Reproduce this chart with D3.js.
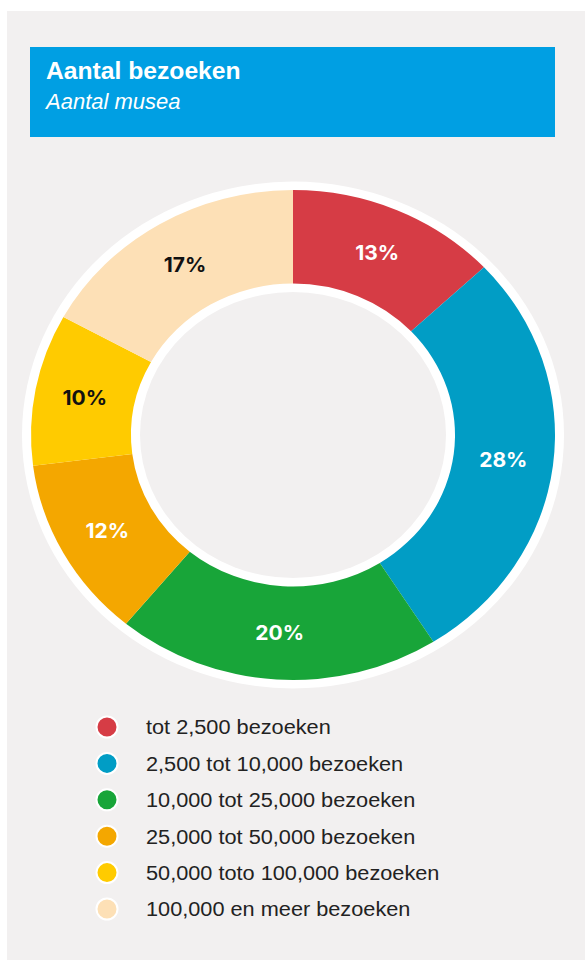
<!DOCTYPE html>
<html><head><meta charset="utf-8">
<script src="https://cdn.jsdelivr.net/npm/d3@7"></script>
<style>html,body{margin:0;padding:0;background:#fff;}svg{display:block;}</style>
</head><body>
<svg id="chart" width="585" height="960"></svg>
<script>
const title = "Aantal bezoeken";
const subtitle = "Aantal musea";
const categories = ["tot 2,500 bezoeken","2,500 tot 10,000 bezoeken","10,000 tot 25,000 bezoeken","25,000 tot 50,000 bezoeken","50,000 toto 100,000 bezoeken","100,000 en meer bezoeken"];
const values = [13, 28, 20, 12, 10, 17];
const colors = ["#d63c45","#019dc5","#18a539","#f4a700","#ffcb00","#fde0b6"];
const labelColors = ["#fff","#fff","#fff","#fff","#111","#111"];

const svg = d3.select("#chart");
svg.append("rect").attr("x",7).attr("y",11).attr("width",578).attr("height",949).attr("fill","#f2f0f0");

// header
svg.append("rect").attr("x",30).attr("y",47).attr("width",525).attr("height",90).attr("fill","#009fe3");
svg.append("text").attr("transform","translate(46,79) scale(1.05,1)").attr("fill","#fff")
  .style("font-family","'Liberation Sans', Arial, sans-serif").style("font-weight","700").style("font-size","23.5px")
  .text(title);
svg.append("text").attr("transform","translate(46,109)").attr("fill","#fff")
  .style("font-family","'Liberation Sans', Arial, sans-serif").style("font-style","italic").style("font-size","22px")
  .text(subtitle);

// donut
const R = 262, r = 162;
const g = svg.append("g").attr("transform","translate(293,435) scale(1,0.935)");
g.append("circle").attr("r",R+9).attr("fill","#fff");
const pie = d3.pie().sort(null).value(d=>d)(values);
const arc = d3.arc().innerRadius(r).outerRadius(R);
g.selectAll("path.slice").data(pie).join("path").attr("class","slice")
  .attr("d",arc).attr("fill",(d,i)=>colors[i]);
g.append("circle").attr("r",r-9).attr("fill","#f2f0f0");
g.selectAll("text.lbl").data(pie).join("text").attr("class","lbl")
  .attr("transform",d=>{const c=arc.centroid(d);return `translate(${c[0]},${c[1]}) scale(1.05,${1/0.935})`;})
  .attr("text-anchor","middle").attr("dy","0.36em")
  .attr("fill",(d,i)=>labelColors[i])
  .style("font-family","Inter, 'Liberation Sans', sans-serif").style("font-weight","700").style("font-size","20px")
  .text(d=>d.data+"%");

// legend
const ly = d3.scalePoint().domain(categories).range([727,909]);
const lg = svg.append("g");
const items = lg.selectAll("g").data(categories).join("g").attr("transform",d=>`translate(0,${ly(d)})`);
items.append("circle").attr("cx",107).attr("r",10.5).attr("fill",(d,i)=>colors[i]).attr("stroke","#fff").attr("stroke-width",2);
items.append("text").attr("transform","translate(146,0) scale(1.06,1)").attr("dy","0.36em").attr("fill","#222")
  .style("font-family","'Liberation Sans', Arial, sans-serif").style("font-size","20.5px")
  .text(d=>d);
</script>
</body></html>
